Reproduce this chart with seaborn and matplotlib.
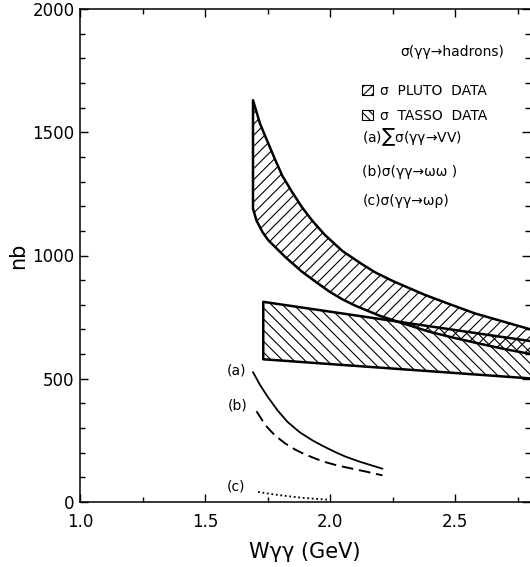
import matplotlib
matplotlib.use("Agg")
import numpy as np
import matplotlib.pyplot as plt
import matplotlib.patches as mpatches
from matplotlib.ticker import MultipleLocator
import seaborn as sns


# Values (W in GeV, sigma in nb)

# PLUTO band, upper edge
PLUTO_UP_W = [1.692, 1.72, 1.753, 1.78, 1.81, 1.85, 1.887, 1.93, 1.98, 2.05,
              2.12, 2.18, 2.25, 2.38, 2.48, 2.58, 2.70, 2.82]
PLUTO_UP = [1630, 1535, 1455, 1390, 1322, 1255, 1197, 1140, 1083, 1018,
            970, 932, 897, 840, 802, 765, 730, 695]

# PLUTO band, lower edge
PLUTO_LO_W = [1.692, 1.706, 1.73, 1.753, 1.78, 1.82, 1.85, 1.887, 1.95, 2.00,
              2.05, 2.10, 2.20, 2.30, 2.40, 2.50, 2.60, 2.70, 2.82]
PLUTO_LO = [1190, 1142, 1095, 1062, 1035, 995, 968, 935, 888, 852,
            822, 797, 755, 722, 690, 665, 642, 620, 597]

# TASSO band (straight edges)
TASSO_W = [1.733, 2.82]
TASSO_UP = [812, 650]
TASSO_LO = [579, 500]

# (a) sum of sigma(gg -> VV)
A_W = [1.692, 1.72, 1.75, 1.79, 1.83, 1.88, 1.93, 1.97, 2.02, 2.06, 2.12, 2.21]
A_NB = [527, 475, 428, 372, 325, 282, 250, 228, 203, 185, 163, 135]

# (b) sigma(gg -> omega omega)
B_W = [1.706, 1.73, 1.75, 1.78, 1.82, 1.86, 1.90, 1.97, 2.03, 2.09, 2.15, 2.21]
B_NB = [368, 330, 302, 270, 238, 213, 193, 165, 148, 135, 122, 108]

# (c) sigma(gg -> omega rho)
C_W = [1.712, 1.76, 1.82, 1.88, 1.94, 1.995]
C_NB = [41, 33, 25, 18, 13, 9]

CURVE_LABELS = ["(a)", "(b)", "(c)"]
CURVE_LABEL_W = [1.625, 1.632, 1.625]
CURVE_LABEL_NB = [534, 391, 61]

LEGEND_LABELS = ["σ  PLUTO  DATA", "σ  TASSO  DATA"]
KEY_LINES = ["(a)$\\sum$σ(γγ→VV)", "(b)σ(γγ→ωω )", "(c)σ(γγ→ωρ)"]
KEY_NB = [1479, 1337, 1223]


sns.set_style("ticks")
plt.rcParams["font.family"] = ["DejaVu Sans"]
plt.rcParams["hatch.linewidth"] = 0.8
plt.rcParams["hatch.color"] = "black"
for key in ["text.color", "axes.labelcolor", "xtick.color", "ytick.color",
            "xtick.labelcolor", "ytick.labelcolor"]:
    plt.rcParams[key] = "black"

fig = plt.figure(figsize=(5.3, 5.67), dpi=100)
ax = fig.add_axes([80 / 530, 65 / 567, 450 / 530, 493 / 567])

# hatched areas
ax.fill(np.concatenate([PLUTO_UP_W, PLUTO_LO_W[::-1]]),
        np.concatenate([PLUTO_UP, PLUTO_LO[::-1]]),
        facecolor="none", edgecolor="black", hatch="///", linewidth=0)
ax.fill_between(TASSO_W, TASSO_LO, TASSO_UP,
                facecolor="none", edgecolor="black", hatch="\\\\\\", linewidth=0)

# band outlines
sns.lineplot(x=np.concatenate([PLUTO_LO_W[::-1], PLUTO_UP_W]),
             y=np.concatenate([PLUTO_LO[::-1], PLUTO_UP]),
             sort=False, estimator=None, color="black", linewidth=1.8, ax=ax)
sns.lineplot(x=[TASSO_W[1], TASSO_W[0], TASSO_W[0], TASSO_W[1]],
             y=[TASSO_LO[1], TASSO_LO[0], TASSO_UP[0], TASSO_UP[1]],
             sort=False, estimator=None, color="black", linewidth=1.8, ax=ax)

# model curves
sns.lineplot(x=A_W, y=A_NB, color="black", linewidth=1.3, ax=ax)
sns.lineplot(x=B_W, y=B_NB, color="black", linewidth=1.4, ax=ax,
             dashes=False, linestyle=(0, (6, 3)))
sns.lineplot(x=C_W, y=C_NB, color="black", linewidth=1.3, ax=ax,
             linestyle=(0, (1, 1.5)))

for lab, w, nb in zip(CURVE_LABELS, CURVE_LABEL_W, CURVE_LABEL_NB):
    ax.text(w, nb, lab, fontsize=10, ha="center", va="center")

# key
ax.text(2.49, 1824, "σ(γγ→hadrons)", fontsize=10, ha="center", va="center")
handles = [mpatches.Patch(facecolor="white", edgecolor="black", hatch="////", linewidth=0.8),
           mpatches.Patch(facecolor="white", edgecolor="black", hatch="\\\\\\\\", linewidth=0.8)]
ax.legend(handles, LEGEND_LABELS, loc="upper left", bbox_to_anchor=(0.627, 0.848),
          frameon=False, fontsize=10, handlelength=0.75, handleheight=0.75,
          handletextpad=0.5, labelspacing=0.8, borderpad=0, borderaxespad=0)
for line, nb in zip(KEY_LINES, KEY_NB):
    ax.text(2.129, nb, line, fontsize=10, ha="left", va="center")

ax.set_xlim(1.0, 2.8)
ax.set_ylim(0, 2000)
ax.xaxis.set_major_locator(MultipleLocator(0.5))
ax.xaxis.set_minor_locator(MultipleLocator(0.25))
ax.yaxis.set_major_locator(MultipleLocator(500))
ax.yaxis.set_minor_locator(MultipleLocator(100))
ax.tick_params(which="both", direction="in", top=True, right=True, width=1, colors="black")
ax.tick_params(which="major", length=5.5)
ax.tick_params(which="minor", length=3.5)
ax.tick_params(axis="x", pad=8, labelsize=12)
ax.tick_params(axis="y", pad=4, labelsize=12)
ax.spines["right"].set_visible(False)
for s in ["left", "bottom", "top"]:
    ax.spines[s].set_linewidth(1.1)
    ax.spines[s].set_color("black")

ax.set_xlabel("Wγγ (GeV)", fontsize=15, labelpad=8)
ax.set_ylabel("nb", fontsize=15)
ax.yaxis.set_label_coords(-0.115, 0.5)

fig.savefig("out.png", dpi=100)
